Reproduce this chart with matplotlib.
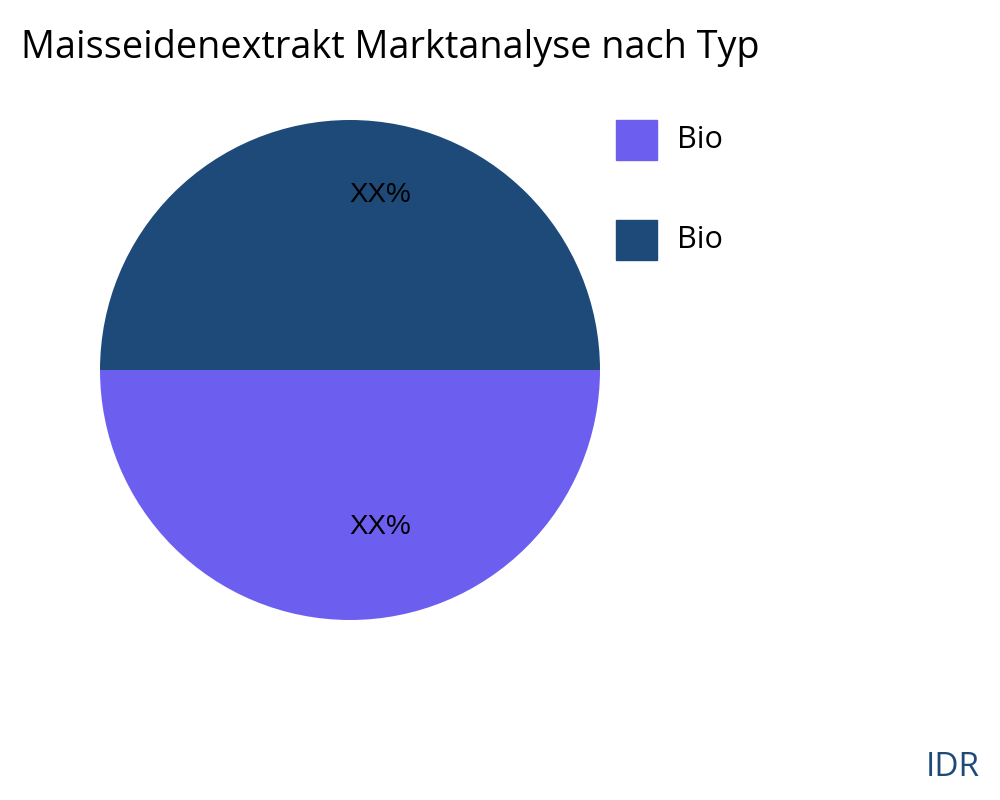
import matplotlib.pyplot as plt
from matplotlib.patches import Rectangle

labels = ['Bio', 'Bio']
values = [50, 50]
colors = ['#6C5FF0', '#1E4A79']
pct_text = ['XX%', 'XX%']

fig = plt.figure(figsize=(10, 8), dpi=100)
ax = fig.add_axes([0.1, 0.225, 0.5, 0.625])
ax.pie(values, colors=colors, startangle=180, counterclock=True, radius=1)
ax.set_xlim(-1, 1)
ax.set_ylim(-1, 1)
ax.set_aspect('equal')

ax.text(0.12, -0.63, pct_text[0], ha='center', va='center', fontsize=20,
        family='Liberation Sans')
ax.text(0.12, 0.70, pct_text[1], ha='center', va='center', fontsize=20,
        family='Liberation Sans')

fig.text(0.021, 0.94, 'Maisseidenextrakt Marktanalyse nach Typ', fontsize=27.2,
         family='Open Sans', va='center')

for i, (lab, c) in enumerate(zip(labels, colors)):
    y = 0.825 - i * 0.125
    fig.patches.append(Rectangle((0.616, y - 0.025), 0.041, 0.05, color=c,
                                 transform=fig.transFigure))
    fig.text(0.677, y, lab, fontsize=22, family='Open Sans', va='center')

fig.text(0.98, 0.04, 'IDR', fontsize=24, family='Open Sans', ha='right',
         va='center', color='#1E4A79')

fig.savefig('out.png')
